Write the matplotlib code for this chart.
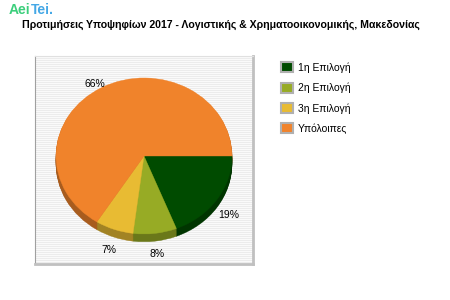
import matplotlib
matplotlib.use("Agg")
import matplotlib.pyplot as plt
import numpy as np
from matplotlib.patches import Patch
from matplotlib.colors import to_rgb

plt.rcParams['font.family'] = ['Liberation Sans', 'DejaVu Sans']

# podaci sa slike
KATEGORIJE = ["1η Επιλογή", "2η Επιλογή", "3η Επιλογή", "Υπόλοιπες"]
PROCENTI = [19, 8, 7, 66]
BOJE = ["#004b00", "#97ab25", "#e8bb33", "#f0832b"]
NASLOV = "Προτιμήσεις Υποψηφίων 2017 - Λογιστικής & Χρηματοοικονομικής, Μακεδονίας"

DUBINA = 0.1  # visina "3D" ivice u jedinicama podataka


def tamnija(boja, f=0.7):
    return tuple(c * f for c in to_rgb(boja))


def obrubi(klinovi):
    for w in klinovi:
        w.set_edgecolor(w.get_facecolor())
        w.set_linewidth(0.3)


fig = plt.figure(figsize=(4.5, 3), dpi=100)
ax = fig.add_axes([35 / 450, 36 / 300, 218 / 450, 208 / 300])

# ivica kolača: niz tamnijih kolača pomjerenih nadolje
tamne = [tamnija(b) for b in BOJE]
for d in np.linspace(-DUBINA, 0, 10)[:-1]:
    klinovi, _ = ax.pie(PROCENTI, colors=tamne, startangle=0, counterclock=False,
                        center=(0, d), frame=True)
    obrubi(klinovi)

klinovi, _, tekstovi = ax.pie(PROCENTI, colors=BOJE, startangle=0, counterclock=False,
                              autopct="%d%%", pctdistance=1.17, frame=True,
                              textprops=dict(fontsize=7.5))
obrubi(klinovi)
for t in tekstovi:
    x, y = t.get_position()
    t.set_position((x, y - DUBINA))

ax.set_aspect("auto")
xlim = (-1.239, 1.239)
ylim = (-1.385, 1.282)
ax.set_xlim(xlim)
ax.set_ylim(ylim)
ax.set_xticks([])
ax.set_yticks([])

# prugasta pozadina
pruge = np.tile([0.925, 0.98], 104).reshape(-1, 1)
ax.imshow(pruge, cmap="gray", vmin=0, vmax=1, extent=(*xlim, *ylim),
          aspect="auto", interpolation="nearest", zorder=0)

for s in ax.spines.values():
    s.set_color("#c0c0c0")
ax.spines["left"].set_color("#a0a0a0")
ax.spines["top"].set_color("#e0e0e0")
ax.spines["bottom"].set_linewidth(2)
ax.spines["right"].set_linewidth(2)

fig.text(22 / 450, 1 - 25 / 300, NASLOV, ha="left", va="center",
         fontsize=7.6, fontweight="bold")
fig.text(9 / 450, 1 - 10 / 300, "Aei", ha="left", va="center",
         fontsize=10, fontweight="bold", color="#3ccf7c")
fig.text(31 / 450, 1 - 10 / 300, "Tei.", ha="left", va="center",
         fontsize=10, fontweight="bold", color="#45a8e6")

rucke = [Patch(facecolor=b, edgecolor="#b0b0b0", linewidth=1.5) for b in BOJE]
fig.legend(rucke, KATEGORIJE, loc="upper left",
           bbox_to_anchor=(277 / 450, 1 - 58 / 300), frameon=False,
           fontsize=7.5, handlelength=1.1, handleheight=1.1,
           labelspacing=0.95, handletextpad=0.5, borderaxespad=0)

fig.savefig("out.png", dpi=100)
